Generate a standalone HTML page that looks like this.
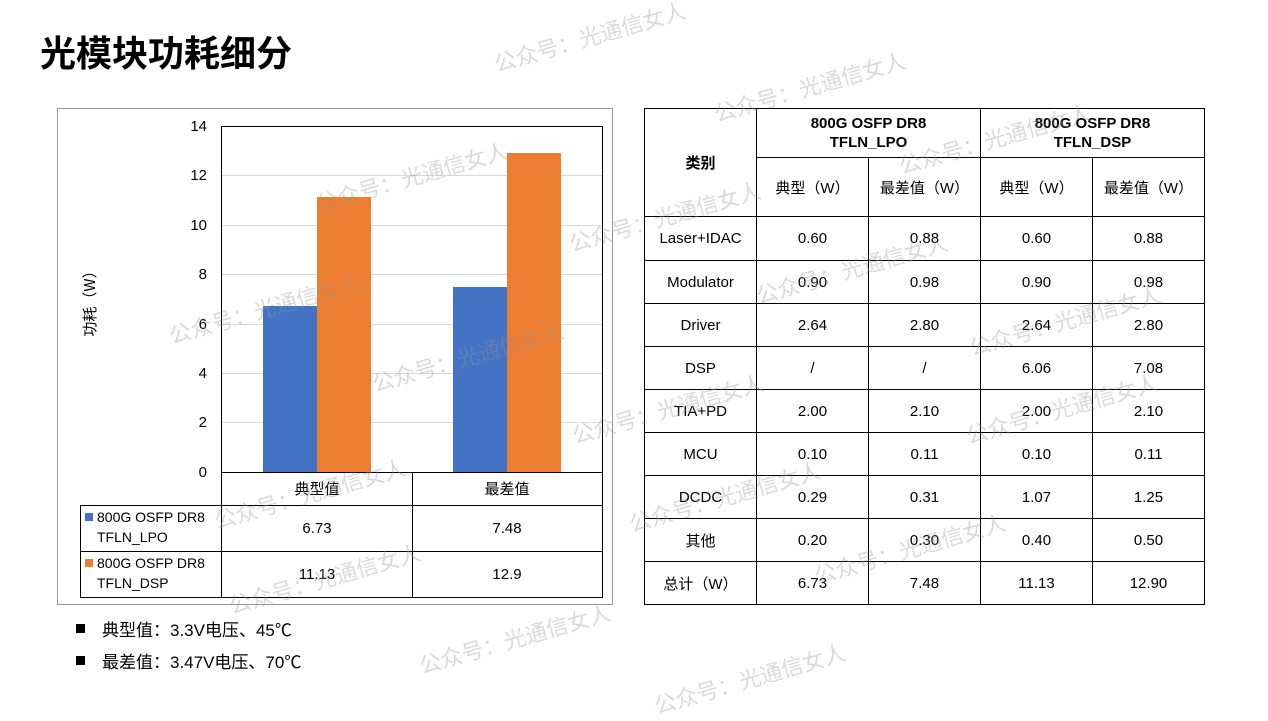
<!DOCTYPE html>
<html><head><meta charset="utf-8"><style>
body{margin:0;width:1268px;height:713px;background:#fff;position:relative;overflow:hidden;font-family:"Liberation Sans","Noto Sans CJK SC",sans-serif;color:#000}
.a{position:absolute}
.wm{position:absolute;color:rgba(150,150,150,0.35);font-size:22px;transform:rotate(-16deg);transform-origin:left top;white-space:nowrap;font-family:"Noto Sans CJK SC",sans-serif}
table{border-collapse:collapse;position:absolute;left:644px;top:108px}
td{border:1px solid #000;text-align:center;font-size:15px;padding:0}
</style></head><body>
<div class="a" style="left:40px;top:25px;font-size:36px;font-weight:bold;font-family:'Noto Sans CJK SC',sans-serif">光模块功耗细分</div>

<svg class="a" style="left:0;top:0" width="640" height="713">
<rect x="57.5" y="108.5" width="555" height="496" fill="none" stroke="#999"/>
<g stroke="#d9d9d9">
<line x1="221" y1="126.5" x2="603" y2="126.5"/><line x1="221" y1="175.5" x2="603" y2="175.5"/>
<line x1="221" y1="225.5" x2="603" y2="225.5"/><line x1="221" y1="274.5" x2="603" y2="274.5"/>
<line x1="221" y1="324.5" x2="603" y2="324.5"/><line x1="221" y1="373.5" x2="603" y2="373.5"/>
<line x1="221" y1="422.5" x2="603" y2="422.5"/>
</g>
<g stroke="#000" fill="none">
<line x1="221.5" y1="126" x2="221.5" y2="597"/>
<line x1="602.5" y1="126" x2="602.5" y2="597"/>
<line x1="221" y1="126.5" x2="603" y2="126.5"/>
</g>
<rect x="263" y="306" width="54" height="166" fill="#4472c4"/>
<rect x="317" y="197" width="54" height="275" fill="#ed7d31"/>
<rect x="453" y="287" width="54" height="185" fill="#4472c4"/>
<rect x="507" y="153" width="54" height="319" fill="#ed7d31"/>
<g stroke="#000" fill="none">
<line x1="221" y1="472.5" x2="603" y2="472.5"/>
<line x1="80" y1="505.5" x2="603" y2="505.5"/>
<line x1="80" y1="551.5" x2="603" y2="551.5"/>
<line x1="80" y1="597.5" x2="603" y2="597.5"/>
<line x1="80.5" y1="505" x2="80.5" y2="597"/>
<line x1="412.5" y1="472" x2="412.5" y2="597"/>
</g>
<rect x="85" y="513" width="8" height="8" fill="#4472c4"/>
<rect x="85" y="559" width="8" height="8" fill="#ed7d31"/>
<g font-size="15" text-anchor="end" font-family="Liberation Sans">
<text x="207" y="131">14</text><text x="207" y="180">12</text><text x="207" y="230">10</text>
<text x="207" y="279">8</text><text x="207" y="329">6</text><text x="207" y="378">4</text>
<text x="207" y="427">2</text><text x="207" y="477">0</text>
</g>
<text transform="translate(95,300) rotate(-90)" text-anchor="middle" font-size="15" font-family="Noto Sans CJK SC">功耗（W）</text>
<g font-size="15" text-anchor="middle" font-family="Liberation Sans,Noto Sans CJK SC">
<text x="317" y="494">典型值</text><text x="507" y="494">最差值</text>
<text x="317" y="533">6.73</text><text x="507" y="533">7.48</text>
<text x="317" y="579">11.13</text><text x="507" y="579">12.9</text>
</g>
<g font-size="14" font-family="Liberation Sans">
<text x="97" y="522">800G OSFP DR8</text><text x="97" y="542">TFLN_LPO</text>
<text x="97" y="568">800G OSFP DR8</text><text x="97" y="588">TFLN_DSP</text>
</g>
<rect x="76" y="624" width="9" height="9" fill="#000"/>
<rect x="76" y="656" width="9" height="9" fill="#000"/>
<g font-size="17" font-family="Liberation Sans,Noto Sans CJK SC">
<text x="102" y="636">典型值：3.3V电压、45℃</text>
<text x="102" y="668">最差值：3.47V电压、70℃</text>
</g>
</svg>

<table>
<tr style="height:49px"><td rowspan="2" style="width:111px;font-weight:bold">类别</td><td colspan="2" style="font-weight:bold;line-height:19px">800G OSFP DR8<br>TFLN_LPO</td><td colspan="2" style="font-weight:bold;line-height:19px">800G OSFP DR8<br>TFLN_DSP</td></tr>
<tr style="height:59px"><td style="width:111px">典型（W）</td><td style="width:111px">最差值（W）</td><td style="width:111px">典型（W）</td><td style="width:111px">最差值（W）</td></tr>
<tr style="height:44px"><td>Laser+IDAC</td><td>0.60</td><td>0.88</td><td>0.60</td><td>0.88</td></tr>
<tr style="height:43px"><td>Modulator</td><td>0.90</td><td>0.98</td><td>0.90</td><td>0.98</td></tr>
<tr style="height:43px"><td>Driver</td><td>2.64</td><td>2.80</td><td>2.64</td><td>2.80</td></tr>
<tr style="height:43px"><td>DSP</td><td>/</td><td>/</td><td>6.06</td><td>7.08</td></tr>
<tr style="height:43px"><td>TIA+PD</td><td>2.00</td><td>2.10</td><td>2.00</td><td>2.10</td></tr>
<tr style="height:43px"><td>MCU</td><td>0.10</td><td>0.11</td><td>0.10</td><td>0.11</td></tr>
<tr style="height:43px"><td>DCDC</td><td>0.29</td><td>0.31</td><td>1.07</td><td>1.25</td></tr>
<tr style="height:43px"><td>其他</td><td>0.20</td><td>0.30</td><td>0.40</td><td>0.50</td></tr>
<tr style="height:43px"><td>总计（W）</td><td>6.73</td><td>7.48</td><td>11.13</td><td>12.90</td></tr>
</table>

<div class="wm" style="left:490px;top:48px">公众号：光通信女人</div>
<div class="wm" style="left:710px;top:98px">公众号：光通信女人</div>
<div class="wm" style="left:895px;top:150px">公众号：光通信女人</div>
<div class="wm" style="left:312px;top:188px">公众号：光通信女人</div>
<div class="wm" style="left:565px;top:228px">公众号：光通信女人</div>
<div class="wm" style="left:752px;top:280px">公众号：光通信女人</div>
<div class="wm" style="left:165px;top:320px">公众号：光通信女人</div>
<div class="wm" style="left:965px;top:332px">公众号：光通信女人</div>
<div class="wm" style="left:368px;top:368px">公众号：光通信女人</div>
<div class="wm" style="left:568px;top:420px">公众号：光通信女人</div>
<div class="wm" style="left:962px;top:420px">公众号：光通信女人</div>
<div class="wm" style="left:210px;top:505px">公众号：光通信女人</div>
<div class="wm" style="left:625px;top:508px">公众号：光通信女人</div>
<div class="wm" style="left:810px;top:560px">公众号：光通信女人</div>
<div class="wm" style="left:225px;top:590px">公众号：光通信女人</div>
<div class="wm" style="left:415px;top:650px">公众号：光通信女人</div>
<div class="wm" style="left:650px;top:690px">公众号：光通信女人</div>
</body></html>
